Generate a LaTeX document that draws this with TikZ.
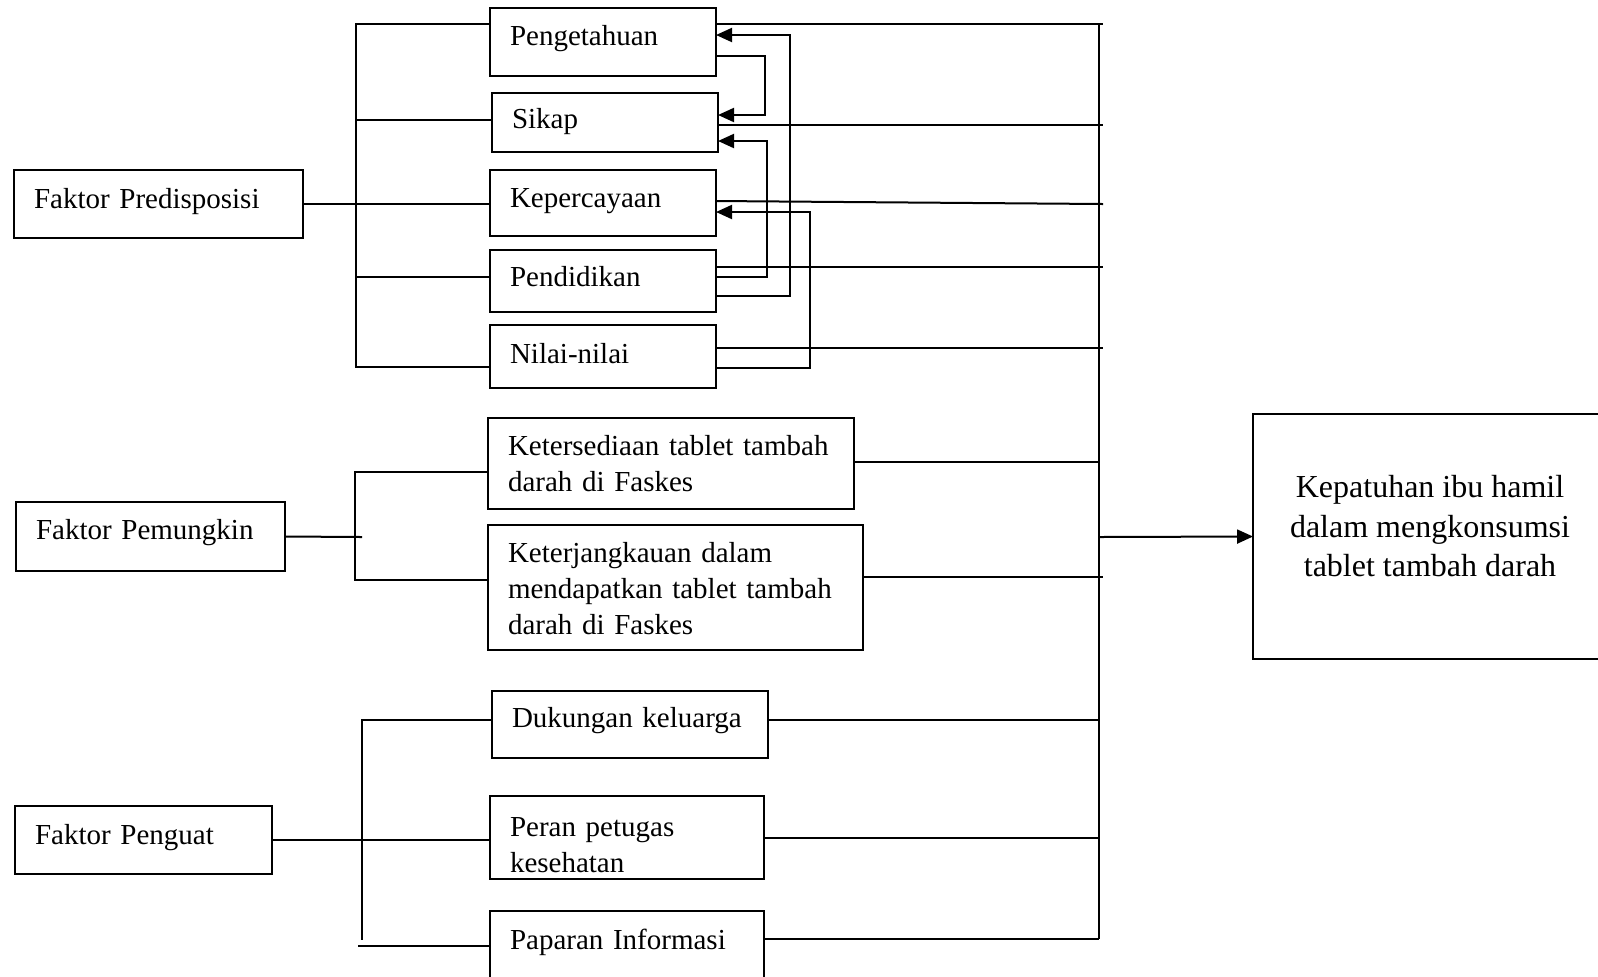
\documentclass[tikz,border=0pt]{standalone}
\usepackage{fontspec}
\setmainfont{Liberation Serif}
\usetikzlibrary{arrows.meta}
\begin{document}
\begin{tikzpicture}[x=0.5pt,y=-0.5pt, line width=1pt,
  box/.style={draw, line width=1pt, anchor=north west, outer sep=0pt, inner xsep=10pt, inner ysep=0pt, align=left, font=\fontsize{14.5}{18}\selectfont},
  sl/.style={text height=10pt, text depth=#1}, sl/.default=7pt,
  arr/.style={-{Triangle[length=8pt,width=7pt]}}]
\useasboundingbox (0,0) rectangle (1598,976);

% left factor boxes
\node[box, sl=5.2pt, text width=124.5pt, minimum height=34pt] (pred) at (14,170) {Faktor Predisposisi};
\node[box, sl=6.7pt, text width=114.5pt, minimum height=34.5pt] (pem) at (16,502) {Faktor Pemungkin};
\node[box, sl=5.2pt, text width=108.5pt, minimum height=34pt] (pgu) at (15,806) {Faktor Penguat};

% predisposing items
\node[box, sl=6.2pt, text width=93pt, minimum height=34pt] (pgt) at (490,8) {Pengetahuan};
\node[box, sl=3.7pt, text width=93pt, minimum height=29.5pt] (sik) at (492,93) {Sikap};
\node[box, sl=5.2pt, text width=93pt, minimum height=33pt] (kep) at (490,170) {Kepercayaan};
\node[box, sl=4.2pt, text width=93pt, minimum height=31pt] (pend) at (490,250) {Pendidikan};
\node[box, sl=2.7pt, text width=93pt, minimum height=31.5pt] (nil) at (490,325) {Nilai-nilai};

% enabling items
\node[box, text width=163pt, minimum height=45.5pt] (ket1) at (488,418) {Ketersediaan tablet tambah\\darah di Faskes};
\node[box, text width=167.5pt, minimum height=62.5pt] (ket2) at (488,525) {\rule{0pt}{11.5pt}Keterjangkauan dalam\\mendapatkan tablet tambah\\darah di Faskes};

% reinforcing items
\node[box, sl=6.7pt, text width=118pt, minimum height=33.5pt] (duk) at (492,691) {Dukungan keluarga};
\node[box, text width=117pt, minimum height=41.5pt] (per) at (490,796) {\rule{0pt}{17pt}Peran petugas\\kesehatan};
\node[box, sl=13.2pt, text width=117pt, minimum height=42pt] (pap) at (490,911) {Paparan Informasi};

% outcome
\node[box, minimum width=177pt, minimum height=122.5pt,
  label={[font=\fontsize{16}{19.75}\selectfont, align=center, yshift=5pt]center:Kepatuhan ibu hamil\\dalam mengkonsumsi\\tablet tambah darah}] (out) at (1253,414) {};

% predisposing bus
\draw (pgt.west |- 0,24) -- (356,24) -- (356,367) -- (nil.west |- 0,367);
\draw (356,120) -- (sik.west |- 0,120);
\draw (356,277) -- (pend.west |- 0,277);
\draw (pred.east) -- (pred.east -| kep.west);

% enabling bus
\draw (ket1.west |- 0,472) -- (355,472) -- (355,580) -- (ket2.west |- 0,580);
\draw (pem.east) -- (362,537);

% reinforcing bus
\draw (duk.west |- 0,720) -- (362,720) -- (362,940);
\draw (pgu.east) -- (pgu.east -| per.west);
\draw (358,946) -- (pap.west |- 0,946);

% right bus
\coordinate (rt) at (1099,24);
\coordinate (rb) at (1099,939);
\coordinate (rm) at (1099,537);
\draw (rt) -- (rb);
\draw (pgt.east |- 0,24) -- (1103,24);
\draw (sik.east |- 0,125) -- (1103,125);
\draw (kep.east |- 0,201) -- (1103,204);
\draw (pend.east |- 0,267) -- (1103,267);
\draw (nil.east |- 0,348) -- (1103,348);
\draw (ket1.east |- 0,462) -- (1099,462);
\draw (ket2.east |- 0,577) -- (1103,577);
\draw (duk.east |- 0,720) -- (1099,720);
\draw (per.east |- 0,838) -- (1099,838);
\draw (pap.east |- 0,939) -- (rb);
\draw[arr] (rm) -- (out.west);

% internal arrows among predisposing items
\draw[arr] (pgt.east |- 0,56) -| (765,115) -- (sik.east |- 0,115);
\draw[arr] (pend.east |- 0,296) -| (790,35) -- (pgt.east |- 0,35);
\draw[arr] (pend.east |- 0,277) -| (767,141) -- (sik.east |- 0,141);
\draw[arr] (nil.east |- 0,368) -| (810,212) -- (kep.east |- 0,212);
\end{tikzpicture}
\end{document}
